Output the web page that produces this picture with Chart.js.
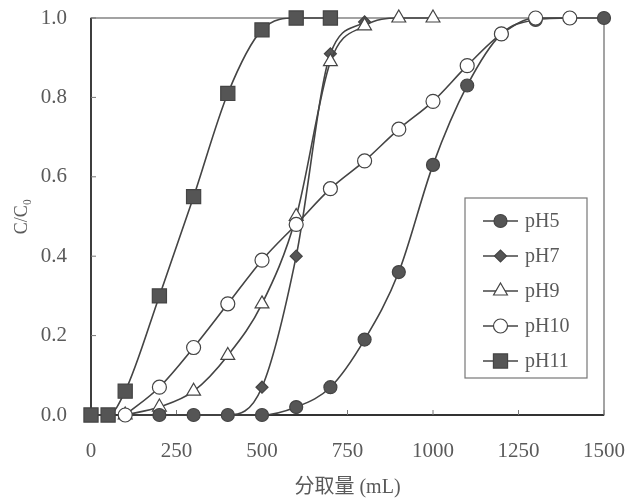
<!DOCTYPE html>
<html>
<head>
<meta charset="utf-8">
<script src="https://cdn.jsdelivr.net/npm/chart.js@4.4.1/dist/chart.umd.min.js"></script>
<style>
html,body{margin:0;padding:0;background:#fff;}
#wrap{width:629px;height:502px;}
</style>
</head>
<body>
<div id="wrap"><canvas id="c" width="629" height="502"></canvas></div>
<script>
const seriesNames = ['pH5', 'pH7', 'pH9', 'pH10', 'pH11'];
const xTickValues = [0, 250, 500, 750, 1000, 1250, 1500];
const yTickValues = [0, 0.2, 0.4, 0.6, 0.8, 1.0];

const pH5x = [200, 300, 400, 500, 600, 700, 800, 900, 1000, 1100, 1200, 1300, 1400, 1500];
const pH5y = [0, 0, 0, 0, 0.02, 0.07, 0.19, 0.36, 0.63, 0.83, 0.96, 0.995, 1.0, 1.0];
const pH7x = [100, 200, 300, 400, 500, 600, 700, 800];
const pH7y = [0, 0, 0, 0, 0.07, 0.40, 0.91, 0.99];
const pH9x = [100, 200, 300, 400, 500, 600, 700, 800, 900, 1000];
const pH9y = [0, 0.02, 0.06, 0.15, 0.28, 0.50, 0.89, 0.98, 1.0, 1.0];
const pH10x = [100, 200, 300, 400, 500, 600, 700, 800, 900, 1000, 1100, 1200, 1300, 1400];
const pH10y = [0, 0.07, 0.17, 0.28, 0.39, 0.48, 0.57, 0.64, 0.72, 0.79, 0.88, 0.96, 1.0, 1.0];
const pH11x = [0, 50, 100, 200, 300, 400, 500, 600, 700];
const pH11y = [0, 0, 0.06, 0.30, 0.55, 0.81, 0.97, 1.0, 1.0];

function pts(xs, ys){ return xs.map((x,i)=>({x:x, y:ys[i]})); }

const LINE = '#444';
const FILL = '#555';
const TEXT = '#5a5a5a';
const SERIF = '"Liberation Serif", "DejaVu Serif", serif';

const styles = [
  {pointStyle:'circle', radius:6.5, bg:FILL, order:1},
  {pointStyle:'rectRot', radius:6, bg:FILL, order:3},
  {pointStyle:'triangle', radius:8, bg:'#fff', order:2},
  {pointStyle:'circle', radius:7, bg:'#fff', order:0},
  {pointStyle:'rect', radius:10, bg:FILL, order:4}
];
const allData = [pts(pH5x,pH5y), pts(pH7x,pH7y), pts(pH9x,pH9y), pts(pH10x,pH10y), pts(pH11x,pH11y)];

const datasets = seriesNames.map((n,i)=>({
  label:n,
  data:allData[i],
  order:styles[i].order,
  borderColor:LINE,
  borderWidth:1.6,
  backgroundColor:styles[i].bg,
  pointBackgroundColor:styles[i].bg,
  pointBorderColor:LINE,
  pointBorderWidth:1.2,
  pointStyle:styles[i].pointStyle,
  pointRadius:styles[i].radius,
  cubicInterpolationMode:'monotone',
  clip:false
}));

const framePlugin = {
  id:'frame',
  beforeDatasetsDraw(chart){
    const {ctx, chartArea:a, scales} = chart;
    ctx.save();
    ctx.strokeStyle = '#666';
    ctx.lineWidth = 1.2;
    ctx.strokeRect(a.left, a.top, a.right-a.left, a.bottom-a.top);
    ctx.strokeStyle = '#333';
    ctx.lineWidth = 1.8;
    ctx.beginPath();
    ctx.moveTo(a.left, a.top); ctx.lineTo(a.left, a.bottom); ctx.lineTo(a.right, a.bottom);
    ctx.stroke();
    ctx.strokeStyle = '#777';
    ctx.lineWidth = 1;
    ctx.beginPath();
    xTickValues.forEach(v=>{
      const px = scales.x.getPixelForValue(v);
      ctx.moveTo(px, a.bottom); ctx.lineTo(px, a.bottom-5);
    });
    yTickValues.forEach(v=>{
      const py = scales.y.getPixelForValue(v);
      ctx.moveTo(a.left, py); ctx.lineTo(a.left+5, py);
    });
    ctx.stroke();
    ctx.restore();
  },
  afterDraw(chart){
    const {ctx} = chart;
    ctx.save();
    const bx=465, by=198, bw=122, bh=180;
    ctx.fillStyle='#fff';
    ctx.fillRect(bx,by,bw,bh);
    ctx.strokeStyle='#777';
    ctx.lineWidth=1.2;
    ctx.strokeRect(bx,by,bw,bh);
    ctx.font = '20px ' + SERIF;
    ctx.textBaseline='middle';
    chart.data.datasets.forEach((ds,i)=>{
      const y = 221 + i*35;
      ctx.strokeStyle=LINE;
      ctx.lineWidth=1.6;
      ctx.beginPath(); ctx.moveTo(483,y); ctx.lineTo(518,y); ctx.stroke();
      ctx.fillStyle=ds.pointBackgroundColor;
      ctx.strokeStyle=LINE;
      ctx.lineWidth=1.2;
      Chart.helpers.drawPoint(ctx,{pointStyle:ds.pointStyle, rotation:0, borderWidth:1.2, radius:ds.pointRadius}, 500.5, y);
      ctx.fillStyle=TEXT;
      ctx.fillText(ds.label, 525, y+1);
    });
    ctx.restore();
  }
};

new Chart(document.getElementById('c'), {
  type:'line',
  data:{datasets:datasets},
  options:{
    responsive:false,
    animation:false,
    devicePixelRatio:1,
    layout:{padding:{left:0, right:25, top:18, bottom:0}},
    plugins:{legend:{display:false}, tooltip:{enabled:false}},
    scales:{
      x:{
        type:'linear', min:0, max:1500,
        afterBuildTicks(s){ s.ticks = xTickValues.map(v=>({value:v})); },
        afterFit(s){ s.height = 87; s.paddingLeft = 0; s.paddingRight = 0; },
        grid:{display:false, drawTicks:false},
        border:{display:false},
        ticks:{color:TEXT, font:{family:SERIF, size:21}, padding:24, maxRotation:0, autoSkip:false, callback:v=>String(v)},
        title:{display:true, text:'分取量 (mL)', color:TEXT, font:{family:'"Liberation Serif", "Noto Sans CJK SC", serif', size:20}, padding:{top:0, bottom:2}}
      },
      y:{
        type:'linear', min:0, max:1,
        afterBuildTicks(s){ s.ticks = yTickValues.map(v=>({value:v})); },
        afterFit(s){ s.width = 91; s.paddingTop = 0; s.paddingBottom = 0; },
        grid:{display:false, drawTicks:false},
        border:{display:false},
        ticks:{color:TEXT, font:{family:SERIF, size:21}, padding:24, callback:v=>v.toFixed(1), autoSkip:false},
        title:{display:true, text:'C/C\u2080', color:TEXT, font:{family:SERIF, size:18}, padding:{top:11,bottom:0}}
      }
    }
  },
  plugins:[framePlugin]
});
</script>
</body>
</html>
